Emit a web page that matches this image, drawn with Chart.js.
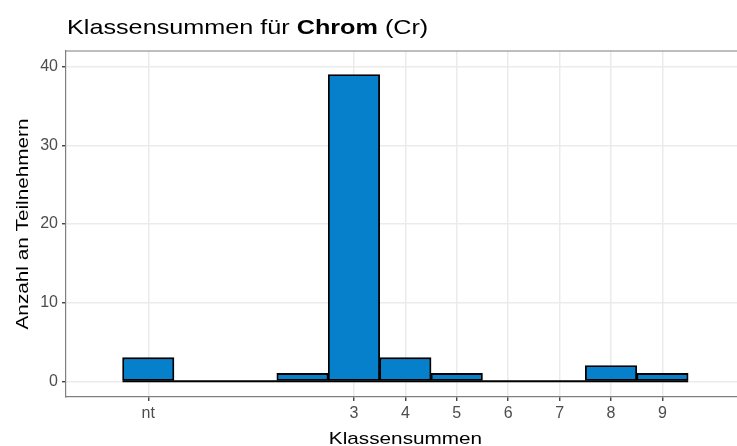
<!DOCTYPE html>
<html>
<head>
<meta charset="utf-8">
<script src="https://cdn.jsdelivr.net/npm/chart.js@4/dist/chart.umd.min.js"></script>
<style>
  html, body { margin: 0; padding: 0; background: #ffffff; }
  #wrap { width: 737px; height: 446px; }
</style>
</head>
<body>
<div id="wrap"><canvas id="c" width="737" height="446"></canvas></div>
<script>
// Histogram of class sums (Klassensummen) for chromium
const binCentres = [-1, 0, 1, 2, 3, 4, 5, 6, 7, 8, 9];
const counts     = [3, 0, 0, 1, 39, 3, 1, 0, 0, 2, 1];
const xTickValues = [-1, 3, 4, 5, 6, 7, 8, 9];
const xTickLabels = ['nt', '3', '4', '5', '6', '7', '8', '9'];
const yTickValues = [0, 10, 20, 30, 40];

const titleParts = [
  { text: 'Klassensummen für ', weight: 'normal' },
  { text: 'Chrom', weight: 'bold' },
  { text: ' (Cr)', weight: 'normal' }
];
const xTitle = 'Klassensummen';
const yTitle = 'Anzahl an Teilnehmern';

const FONT = '"Liberation Sans", Arial, sans-serif';
const STRETCH = 1.2;

const barPoints = binCentres.map((x, i) => ({ x: x, y: counts[i] }));
const baseline = [
  { x: binCentres[0] - 0.5, y: 0 },
  { x: binCentres[binCentres.length - 1] + 0.5, y: 0 }
];

// Title, axis titles and the panel's top edge
const decorations = {
  id: 'decorations',
  afterDraw(chart) {
    const ctx = chart.ctx;
    const area = chart.chartArea;
    ctx.save();
    // top border of the panel
    ctx.strokeStyle = '#7f7f7f';
    ctx.lineWidth = 1.2;
    ctx.beginPath();
    ctx.moveTo(area.left, area.top);
    ctx.lineTo(area.right, area.top);
    ctx.stroke();

    // title with a bold element name
    ctx.fillStyle = '#000000';
    ctx.textBaseline = 'alphabetic';
    ctx.textAlign = 'left';
    ctx.save();
    ctx.translate(67, 33.5);
    ctx.scale(STRETCH, 1);
    let x = 0;
    titleParts.forEach(p => {
      ctx.font = p.weight + ' 21px ' + FONT;
      ctx.fillText(p.text, x, 0);
      x += ctx.measureText(p.text).width;
    });
    ctx.restore();

    // x axis title
    ctx.save();
    ctx.font = '17px ' + FONT;
    ctx.textAlign = 'center';
    ctx.translate((area.left + 745) / 2, 443.5);
    ctx.scale(1.22, 1);
    ctx.fillText(xTitle, 0, 0);
    ctx.restore();

    // y axis title
    ctx.save();
    ctx.font = '17px ' + FONT;
    ctx.textAlign = 'center';
    ctx.translate(28, (area.top + area.bottom) / 2);
    ctx.rotate(-Math.PI / 2);
    ctx.scale(1.22, 1);
    ctx.fillText(yTitle, 0, 0);
    ctx.restore();
    ctx.restore();
  }
};

new Chart(document.getElementById('c'), {
  type: 'bar',
  data: {
    datasets: [
      {
        type: 'bar',
        data: barPoints,
        backgroundColor: '#0780cc',
        borderColor: '#000000',
        borderWidth: 1.8,
        borderSkipped: false,
        barPercentage: 1,
        categoryPercentage: 1,
        order: 0
      },
      {
        type: 'line',
        data: baseline,
        borderColor: '#000000',
        borderWidth: 1.8,
        pointRadius: 0,
        fill: false,
        order: 1
      }
    ]
  },
  options: {
    responsive: false,
    animation: false,
    events: [],
    layout: { padding: { top: 51, left: 0, right: 0, bottom: 0 } },
    plugins: {
      legend: { display: false },
      title: { display: false },
      tooltip: { enabled: false }
    },
    scales: {
      x: {
        type: 'linear',
        offset: false,
        min: -2.6,
        max: 10.45,
        afterBuildTicks(scale) {
          scale.ticks = xTickValues.map(v => ({ value: v }));
        },
        afterFit(scale) { scale.height = 49; },
        grid: {
          offset: false,
          color: '#ebebeb',
          lineWidth: 1.5,
          drawTicks: true,
          tickLength: 4,
          tickColor: '#333333',
          tickWidth: 1.3
        },
        border: { display: true, color: '#7f7f7f', width: 1.2 },
        ticks: {
          autoSkip: false,
          maxRotation: 0,
          padding: 3,
          color: '#4d4d4d',
          font: { family: FONT, size: 16 },
          callback: (v) => {
            const i = xTickValues.indexOf(v);
            return i >= 0 ? xTickLabels[i] : '';
          }
        }
      },
      y: {
        type: 'linear',
        min: -2,
        max: 42,
        afterBuildTicks(scale) {
          scale.ticks = yTickValues.map(v => ({ value: v }));
        },
        afterFit(scale) { scale.width = 66; },
        grid: {
          color: '#ebebeb',
          lineWidth: 1.5,
          drawTicks: true,
          tickLength: 4,
          tickColor: '#333333',
          tickWidth: 1.3
        },
        border: { display: true, color: '#7f7f7f', width: 1.2 },
        ticks: {
          padding: 4,
          color: '#4d4d4d',
          font: { family: FONT, size: 16 }
        }
      }
    }
  },
  plugins: [decorations]
});
</script>
</body>
</html>
